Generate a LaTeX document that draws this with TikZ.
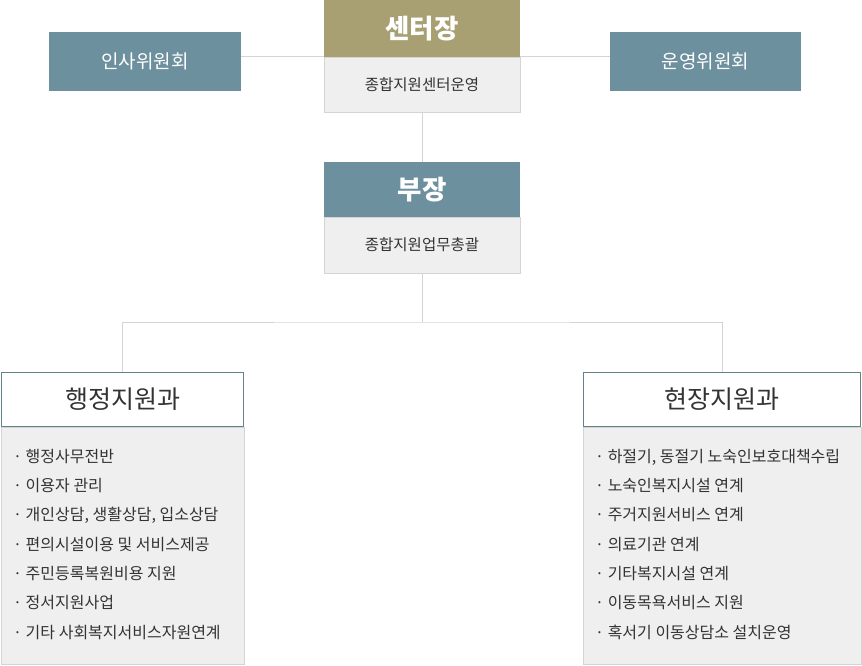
\documentclass[tikz,border=0pt]{standalone}
\usepackage{fontspec}
\setmainfont{Noto Sans CJK KR}
\usepackage{tikz}
\definecolor{olive}{HTML}{A8A072}
\definecolor{slate}{HTML}{6D909E}
\definecolor{panel}{HTML}{EFEFEF}
\definecolor{rim}{HTML}{D4D4D4}
\definecolor{ink}{HTML}{333333}
\newcommand{\bigtxt}{\fontsize{26.5}{30}\selectfont\bfseries}
\newcommand{\midtxt}{\fontsize{19}{22}\selectfont}
\newcommand{\subtxt}{\fontsize{15.5}{18}\selectfont}
\newcommand{\deptxt}{\fontsize{25}{29}\selectfont}
\newcommand{\itemtxt}{\fontsize{16}{19}\selectfont}
\tikzset{
  headbox/.style = {fill=#1, text=white, inner sep=0pt, minimum width=196pt},
  subbox/.style  = {fill=panel, draw=rim, text=ink, inner sep=0pt, minimum width=196pt, font=\subtxt},
  sidebox/.style = {fill=slate, text=white, inner sep=0pt, minimum height=59pt, font=\midtxt},
  deptbox/.style = {fill=white, draw=slate!90!black, line width=1.6pt, text=ink, inner sep=0pt, minimum height=54pt, font=\deptxt},
  listbox/.style = {fill=panel, draw=rim, inner sep=0pt, minimum height=237pt},
  listitem/.style = {anchor=base west, inner sep=0pt, text=ink, font=\itemtxt},
  conn/.style = {draw=rim, line width=1pt}
}

\begin{document}
\begin{tikzpicture}[x=1pt, y=-1pt]
      \useasboundingbox (0,0) rectangle (862,665);

      % top
      \node[headbox=olive, minimum height=56.5pt, font=\bigtxt] (head) at (422,28.5) {센터장};
      \node[subbox, minimum height=55pt] (headsub) at (422,84.5) {종합지원센터운영};
      \node[sidebox, minimum width=192pt] (insa) at (145,61.5) {인사위원회};
      \node[sidebox, minimum width=191pt] (unyeong) at (705.5,61.5) {운영위원회};

      \node[headbox=slate, minimum height=55pt, font=\bigtxt] (bu) at (422,189.5) {부장};
      \node[subbox, minimum height=56pt] (busub) at (422,245) {종합지원업무총괄};

      % departments
      \node[deptbox, minimum width=242pt] (adm) at (122.5,399.5) {행정지원과};
      \node[listbox, minimum width=243pt] (admlist) at (122.5,545.5) {};
      \node[deptbox, minimum width=277pt] (fld) at (722,399.5) {현장지원과};
      \node[listbox, minimum width=278pt] (fldlist) at (722,545.5) {};

      \foreach \txt [count=\i] in {행정사무전반, 이용자 관리, {개인상담, 생활상담, 입소상담},
          편의시설이용 및 서비스제공, 주민등록복원비용 지원, 정서지원사업, 기타 사회복지서비스자원연계}
        \node[listitem] (adm-\i) at (13, 433+29.3*\i) {·\ \txt};

      \foreach \txt [count=\i] in {{하절기, 동절기 노숙인보호대책수립}, 노숙인복지시설 연계, 주거지원서비스 연계,
          의료기관 연계, 기타복지시설 연계, 이동목욕서비스 지원, 혹서기 이동상담소 설치운영}
        \node[listitem] (fld-\i) at (595, 433+29.3*\i) {·\ \txt};

      % lines
      \coordinate (split) at (422,322);
      \draw[conn] (head.south west) -- (head.south west -| insa.east);
      \draw[conn] (head.south east) -- (head.south east -| unyeong.west);
      \draw[conn] (headsub.south) -- (bu.north);
      \draw[conn] (busub.south) -- (split);
      \draw[conn] (adm.north) |- (split) -| (fld.north);
\end{tikzpicture}
\end{document}
